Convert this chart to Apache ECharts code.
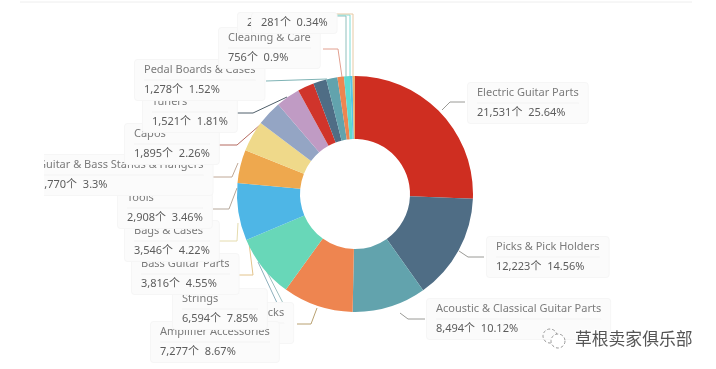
<!DOCTYPE html>
<html>
<head>
<meta charset="utf-8">
<style>html,body{margin:0;padding:0;background:#fff}#c{width:716px;height:369px}</style>
<script src="https://cdn.jsdelivr.net/npm/echarts@6/dist/echarts.min.js"></script>
</head>
<body>
<div id="c"></div>
<script>
// Data. Names/values of labels hidden in the source are estimates.
const names = ['Electric Guitar Parts','Picks & Pick Holders','Acoustic & Classical Guitar Parts','Guitar Necks','Amplifier Accessories','Strings','Bass Guitar Parts','Bags & Cases','Tools','Guitar & Bass Stands & Hangers','Capos','Tuners','Pedal Boards & Cases','Cleaning & Care','','',''];
const values = [21531,12223,8494,8095,7277,6594,3816,3546,2908,2770,1895,1521,1278,756,680,290,281];
const valueText = ['21,531','12,223','8,494','8,095','7,277','6,594','3,816','3,546','2,908','2,770','1,895','1,521','1,278','756','680','290','281'];
const percents = ['25.64%','14.56%','10.12%','','8.67%','7.85%','4.55%','4.22%','3.46%','3.3%','2.26%','1.81%','1.52%','0.9%','0.81%','0.35%','0.34%'];
const sliceColors = ['#cf2e21','#4f6d85','#62a3ad','#ee8550','#68d7b8','#4eb6e6','#eea84e','#efd98a','#94a5c4','#c09bc4','#d0342b','#4f6d85','#62a3ad','#ee8550','#5fd9d0','#57c4e6','#eeb06a'];

// Presentation: label box corner and leader-line routes (label layout only)
const labelBoxes = [[468,83],[487,237],[427,299],[209,303],[151,322],[173,289],[132,254],[125,221],[118,188],[29,155],[125,124],[143,92],[135,60],[219,28],[238,13],[238,13],[252,13]];
const leaderLines = [
 [[442,110],[450,102],[465,102]],
 [[459,251],[468,257],[484,257]],
 [[400,313],[408,319],[425,319]],
 [[317,308],[311,324],[297,324]],
 [[265,268],[284,305]],
 [[258,262],[278,305]],
 [[249,243],[253,275],[236,275]],
 [[238,223],[237,241],[219,241]],
 [[237,188],[229,209],[213,209]],
 [[238,163],[232,177],[213,177]],
 [[260,125],[237,145],[219,145]],
 [[287,97],[253,113],[236,113]],
 [[327,79],[266,81]],
 [[342,77],[338,49],[323,49]],
 [[346,78],[346,16],[336,16]],
 [[350,78],[350,15],[336,15]],
 [[353,78],[353,14],[336,14]]
];
const lineColors = ['#9a9a96','#9a9a96','#9a9a96','#b8a070','#9fc0c0','#8fb0bd','#e3c48c','#e5dcae','#b5a79a','#c0a896','#b56a60','#4f5f6a','#7fb3b5','#e2a090','#8fc0bd','#7fdcd5','#e6c9a4'];

const font = '"Noto Sans","Noto Sans CJK SC",sans-serif';
const option = {
  animation: false,
  series: [{
    type: 'pie', center: [355, 194], radius: [55, 118], startAngle: 90, clockwise: true,
    silent: true, animation: false, avoidLabelOverlap: false,
    label: {
      show: true, position: 'outside', fontFamily: font,
      backgroundColor: '#fbfbfb', borderColor: '#f6f6f6', borderWidth: 1, borderRadius: 3,
      padding: [0, 9],
      formatter: p => {
        const i = p.dataIndex;
        const v = valueText[i] + '个  ' + percents[i];
        return names[i] ? '{n|' + names[i] + '}\n{hr|}\n{v|' + v + '}' : '{v|' + v + '}';
      },
      rich: {
        n: {fontSize: 11, color: '#7b7b7b', lineHeight: 20, fontFamily: font},
        hr: {borderColor: '#f1f1f1', borderWidth: 0.5, width: '100%', height: 0},
        v: {fontSize: 11, color: '#5c5c5c', lineHeight: 20, fontFamily: font}
      }
    },
    labelLayout: p => ({
      x: labelBoxes[p.dataIndex][0], y: labelBoxes[p.dataIndex][1],
      align: 'left', verticalAlign: 'top', labelLinePoints: leaderLines[p.dataIndex]
    }),
    data: values.map((v, i) => ({
      name: names[i] || ('#' + i), value: v,
      itemStyle: {color: sliceColors[i]},
      labelLine: {show: true, length: 8, length2: 8, lineStyle: {color: lineColors[i], width: 1}}
    }))
  }],
  graphic: [
    {type: 'rect', z: 100, silent: true, shape: {x: 0, y: 150, width: 44, height: 50}, style: {fill: '#fff'}},
    {type: 'line', z: 100, silent: true, shape: {x1: 20, y1: 2, x2: 692, y2: 2}, style: {stroke: '#eeeeee', lineWidth: 1}},
    {type: 'circle', z: 100, silent: true, shape: {cx: 550, cy: 336, r: 7}, style: {fill: 'none', stroke: '#999', lineWidth: 1, lineDash: [3, 2]}},
    {type: 'circle', z: 100, silent: true, shape: {cx: 558, cy: 341, r: 7}, style: {fill: '#fff', stroke: '#999', lineWidth: 1, lineDash: [3, 2]}},
    {type: 'text', z: 100, silent: true, x: 575, y: 330, style: {text: '草根卖家俱乐部', fill: '#555', font: '16.8px "Noto Sans CJK SC"', stroke: '#fff', lineWidth: 2}}
  ]
};
echarts.init(document.getElementById('c'), null, {renderer: 'canvas'}).setOption(option);
</script>
</body>
</html>
